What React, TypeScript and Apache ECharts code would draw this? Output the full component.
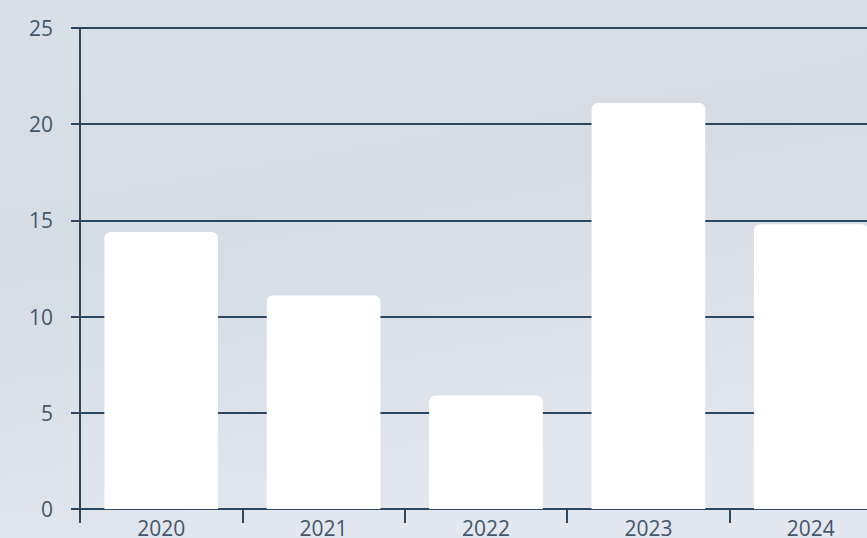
import React, { useEffect, useRef } from "react";
import * as echarts from "echarts";

const categories = ["2020", "2021", "2022", "2023", "2024"];
const values = [14.4, 11.1, 5.9, 21.1, 14.8];
const yTicks = { min: 0, max: 25, interval: 5 };

export default function App() {
  const ref = useRef<HTMLDivElement>(null);
  useEffect(() => {
    if (!ref.current) return;
    const chart = echarts.init(ref.current, null, { renderer: "svg" });
    const axisColor = "#2f465f";
    const textColor = "#45566a";
    chart.setOption({
      animation: false,
      backgroundColor: {
        type: "linear",
        x: 0,
        y: 0,
        x2: 0.3,
        y2: 1,
        colorStops: [
          { offset: 0, color: "#d9e0e7" },
          { offset: 0.45, color: "#d5dce4" },
          { offset: 1, color: "#e3e7ef" },
        ],
      },
      grid: { left: 80, top: 28, right: 8, bottom: 29, containLabel: false },
      xAxis: {
        type: "category",
        data: categories,
        axisLine: { show: true, lineStyle: { color: axisColor, width: 2 } },
        axisTick: { show: true, length: 14, lineStyle: { color: axisColor, width: 2 } },
        axisLabel: { color: textColor, fontSize: 21, fontFamily: "Open Sans", margin: 8 },
        splitLine: { show: false },
      },
      yAxis: {
        type: "value",
        min: yTicks.min,
        max: yTicks.max,
        interval: yTicks.interval,
        axisLine: { show: true, lineStyle: { color: axisColor, width: 2 } },
        axisTick: { show: true, length: 9, lineStyle: { color: axisColor, width: 2 } },
        axisLabel: { color: textColor, fontSize: 21, fontFamily: "Open Sans", margin: 27 },
        splitLine: { show: true, lineStyle: { color: axisColor, width: 2 } },
      },
      series: [
        {
          type: "bar",
          data: values,
          barCategoryGap: "30%",
          itemStyle: { color: "#ffffff", borderRadius: [6, 6, 0, 0] },
        },
      ],
    });
    return () => chart.dispose();
  }, []);
  return (
    <div
      style={{
        position: "absolute",
        left: 0,
        top: 0,
        width: 867,
        height: 538,
        overflow: "hidden",
      }}
    >
      <div ref={ref} style={{ width: 900, height: 538 }} />
    </div>
  );
}
